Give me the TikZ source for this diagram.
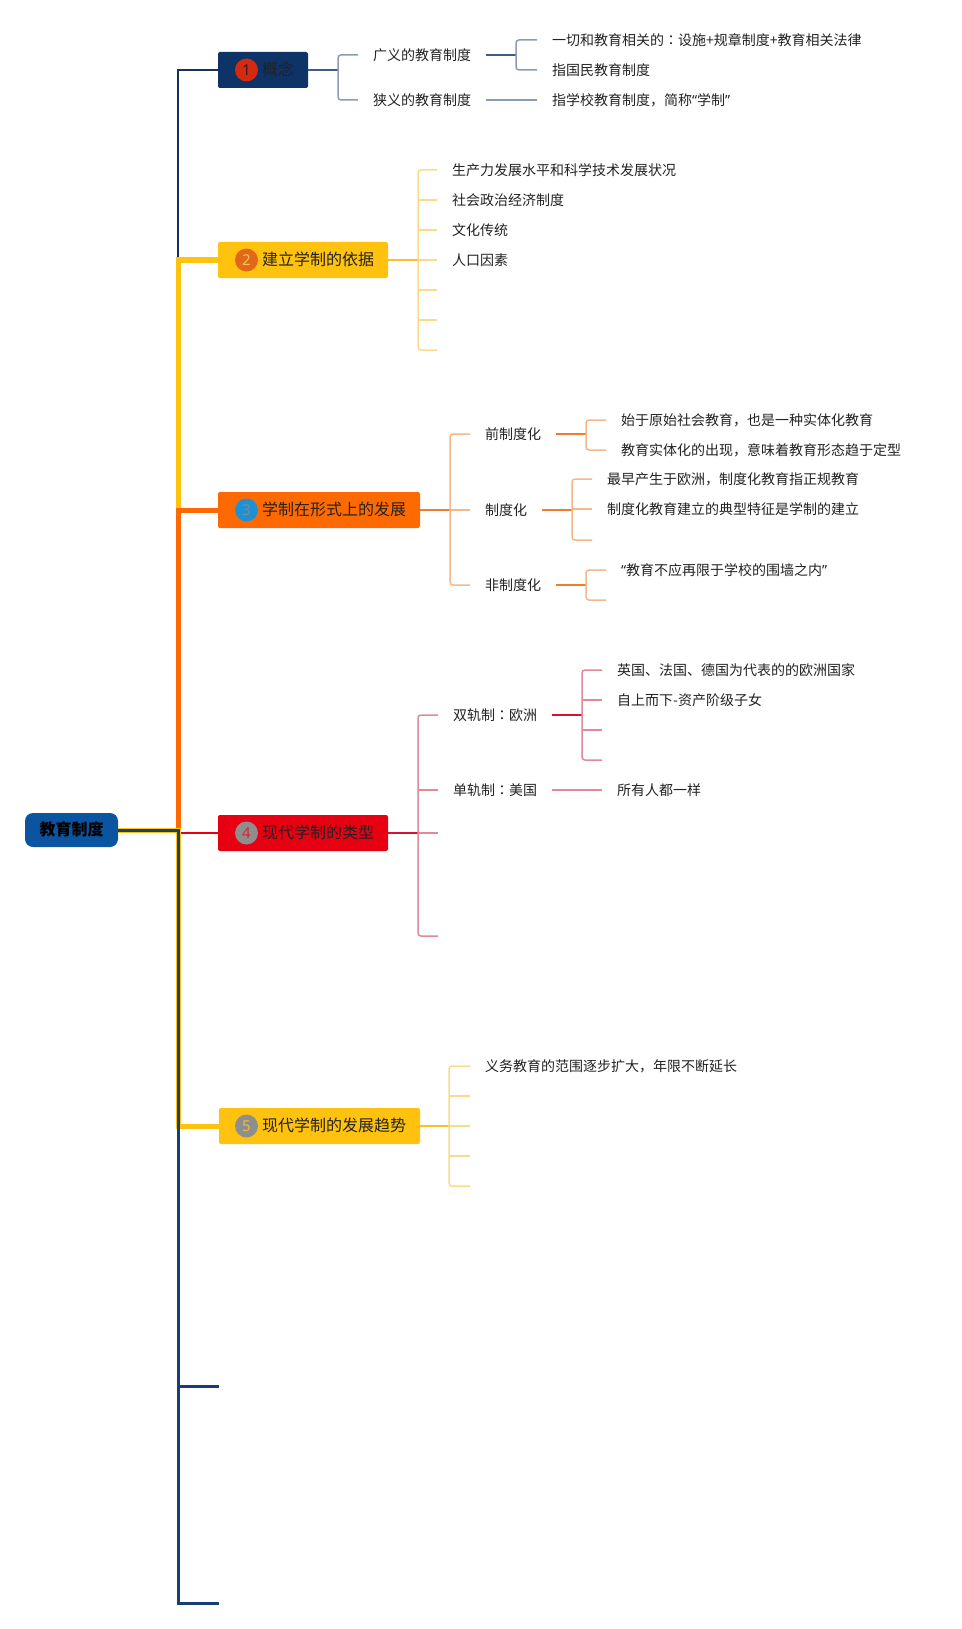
\documentclass[tikz,border=0pt]{standalone}
\usepackage{fontspec}
\setmainfont{Noto Sans CJK SC}
\newfontfamily\numfont{Noto Sans}
\newfontfamily\tcfont{Noto Sans CJK TC}
\newcommand{\mycolon}{{\tcfont ：}}
\newcommand{\myoq}{{\numfont “}}
\newcommand{\mycq}{{\numfont ”}}
\definecolor{navyA}{HTML}{14325C}
\definecolor{navyB}{HTML}{163F75}
\definecolor{boxA}{HTML}{0D3367}
\definecolor{rootC}{HTML}{0B55A0}
\definecolor{yel}{HTML}{FFC20E}
\definecolor{ora}{HTML}{FF6A00}
\definecolor{redC}{HTML}{E60012}
\definecolor{lA}{HTML}{3E5D85}
\definecolor{bA}{HTML}{8A9BB5}
\definecolor{lB}{HTML}{F3C12B}
\definecolor{bB}{HTML}{F9DB8A}
\definecolor{lC}{HTML}{EE7C33}
\definecolor{bC}{HTML}{F3B88A}
\definecolor{lD}{HTML}{D2142E}
\definecolor{bD}{HTML}{E0899A}
\definecolor{txt}{HTML}{222222}
\begin{document}
\begin{tikzpicture}[x=1pt,y=-1pt,
  mainbox/.style={rectangle, rounded corners=2pt, minimum height=36pt, inner sep=0pt},
  numc/.style={circle, minimum size=23pt, inner sep=0pt, font=\numfont\fontsize{15}{15}\selectfont},
  mtext/.style={anchor=west, inner sep=0pt, font=\fontsize{16}{16}\selectfont, text=txt, text height=13.5pt, text depth=2pt},
  sub/.style={anchor=west, inner xsep=15pt, inner ysep=0pt, font=\fontsize{14}{14}\selectfont, text=txt, text height=12pt, text depth=1.5pt},
  lineA/.style={draw=lA, line width=1.8pt},
  brA/.style={draw=bA, line width=1.5pt, rounded corners=3pt},
  lineB/.style={draw=lB, line width=1.8pt},
  brB/.style={draw=bB, line width=1.5pt, rounded corners=3pt},
  lineC/.style={draw=lC, line width=1.8pt},
  brC/.style={draw=bC, line width=1.5pt, rounded corners=3pt},
  lineD/.style={draw=lD, line width=1.8pt},
  brD/.style={draw=bD, line width=1.5pt, rounded corners=3pt},
  ]
\useasboundingbox (0,0) rectangle (961,1629);

% root
\node[rectangle, rounded corners=8pt, fill=rootC, minimum width=93pt, minimum height=34pt, inner sep=0pt,
      font=\bfseries\fontsize{16}{16}\selectfont, text=black, text height=13.5pt, text depth=2pt] (root) at (71.5,830) {教育制度};
\coordinate (hub) at (178,830);

% main boxes
\node[mainbox, fill=boxA, minimum width=90pt]  (b1) at (263,70) {};
\node[mainbox, fill=yel,  minimum width=170pt] (b2) at (303,260) {};
\node[mainbox, fill=ora,  minimum width=202pt] (b3) at (319,510) {};
\node[mainbox, fill=redC, minimum width=170pt] (b4) at (303,833) {};
\node[mainbox, fill=yel,  minimum width=201pt] (b5) at (319.5,1126) {};
\coordinate (b6) at (219,1386);
\coordinate (b7) at (219,1603);

\node[numc, fill={rgb,255:red,212;green,42;blue,16}, text={rgb,255:red,60;green,25;blue,25}] (n1) at (246.5,70) {1};
\node[numc, fill={rgb,255:red,226;green,103;blue,26}, text={rgb,255:red,249;green,197;blue,74}] (n2) at (246.5,260) {2};
\node[numc, fill={rgb,255:red,30;green,144;blue,214}, text={rgb,255:red,127;green,140;blue,141}] (n3) at (246.5,510) {3};
\node[numc, fill={rgb,255:red,142;green,142;blue,142}, text={rgb,255:red,224;green,36;blue,44}] (n4) at (246.5,833) {4};
\node[numc, fill={rgb,255:red,142;green,142;blue,142}, text={rgb,255:red,232;green,190;blue,58}] (n5) at (246.5,1126) {5};

\node[mtext] (t1) at (262,70) {概念};
\node[mtext] (t2) at (262,260) {建立学制的依据};
\node[mtext] (t3) at (262,510) {学制在形式上的发展};
\node[mtext] (t4) at (262,833) {现代学制的类型};
\node[mtext] (t5) at (262,1126) {现代学制的发展趋势};

% trunk connectors (drawn in layered order)
\draw[redC, line width=2.5pt] (hub) |- (b4.west);
\draw[navyA, line width=2.5pt] (hub) |- (b1.west);
\draw[yel, line width=5pt] (hub) |- (b2.west);
\draw[ora, line width=5pt] (hub) |- (b3.west);
\draw[yel, line width=5pt] (root.east) -- (hub) |- (b5.west);
\draw[navyB, line width=3pt] (root.east) -- (hub) |- (b6);
\draw[navyB, line width=3pt] (hub) |- (b7);

% ---------- branch 1 ----------
\coordinate (k1) at (338,70);
\node[sub] (s11) at (358,55) {广义的教育制度};
\node[sub] (s12) at (358,100) {狭义的教育制度};
\draw[lineA] (b1.east) -- (k1);
\draw[brA] (s11.west) -| (k1) |- (s12.west);
\coordinate (k11) at (516,55);
\node[sub] (s111) at (537,40) {一切和教育相关的\mycolon 设施+规章制度+教育相关法律};
\node[sub] (s112) at (537,70) {指国民教育制度};
\draw[lineA] (s11.east) -- (k11);
\draw[brA] (s111.west) -| (k11) |- (s112.west);
\node[sub] (s121) at (537,100) {指学校教育制度，简称\myoq 学制\mycq};
\draw[brA] (s12.east) -- (s121.west);

% ---------- branch 2 ----------
\coordinate (k2) at (418,260);
\node[sub] (s21) at (437,170) {生产力发展水平和科学技术发展状况};
\node[sub] (s22) at (437,200) {社会政治经济制度};
\node[sub] (s23) at (437,230) {文化传统};
\node[sub] (s24) at (437,260) {人口因素};
\coordinate (e25) at (437,290);
\coordinate (e26) at (437,320);
\coordinate (e27) at (437,350);
\draw[lineB] (b2.east) -- (k2);
\draw[brB] (s21.west) -| (k2) |- (e27);
\draw[brB] (s22.west) -- (s22.west -| k2);
\draw[brB] (s23.west) -- (s23.west -| k2);
\draw[brB] (s24.west) -- (k2);
\draw[brB] (e25) -- (e25 -| k2);
\draw[brB] (e26) -- (e26 -| k2);

% ---------- branch 3 ----------
\coordinate (k3) at (450,510);
\node[sub] (s31) at (470,434) {前制度化};
\node[sub] (s32) at (470,510) {制度化};
\node[sub] (s33) at (470,585) {非制度化};
\draw[lineC] (b3.east) -- (k3);
\draw[brC] (s31.west) -| (k3) |- (s33.west);
\draw[brC] (s32.west) -- (k3);

\coordinate (k31) at (586,434);
\node[sub] (s311) at (606,420) {始于原始社会教育，也是一种实体化教育};
\node[sub] (s312) at (606,450) {教育实体化的出现，意味着教育形态趋于定型};
\draw[lineC] (s31.east) -- (k31);
\draw[brC] (s311.west) -| (k31) |- (s312.west);

\coordinate (k32) at (572,510);
\node[sub] (s321) at (592,479) {最早产生于欧洲，制度化教育指正规教育};
\node[sub] (s322) at (592,509) {制度化教育建立的典型特征是学制的建立};
\coordinate (e323) at (592,540);
\draw[lineC] (s32.east) -- (k32);
\draw[brC] (s321.west) -| (k32) |- (e323);
\draw[brC] (s322.west) -- (s322.west -| k32);

\coordinate (k33) at (586,585);
\node[sub] (s331) at (606,570) {\myoq 教育不应再限于学校的围墙之内\mycq};
\coordinate (e332) at (606,600);
\draw[lineC] (s33.east) -- (k33);
\draw[brC] (s331.west) -| (k33) |- (e332);

% ---------- branch 4 ----------
\coordinate (k4) at (418,833);
\node[sub] (s41) at (438,715) {双轨制\mycolon 欧洲};
\node[sub] (s42) at (438,790) {单轨制\mycolon 美国};
\coordinate (e43) at (438,833);
\coordinate (e44) at (438,936);
\draw[lineD] (b4.east) -- (k4);
\draw[brD] (s41.west) -| (k4) |- (e44);
\draw[brD] (s42.west) -- (s42.west -| k4);
\draw[brD] (e43) -- (k4);

\coordinate (k41) at (582,715);
\node[sub] (s411) at (602,670) {英国、法国、德国为代表的的欧洲国家};
\node[sub] (s412) at (602,700) {自上而下-资产阶级子女};
\coordinate (e413) at (602,730);
\coordinate (e414) at (602,760);
\draw[lineD] (s41.east) -- (k41);
\draw[brD] (s411.west) -| (k41) |- (e414);
\draw[brD] (s412.west) -- (s412.west -| k41);
\draw[brD] (e413) -- (e413 -| k41);

\node[sub] (s421) at (602,790) {所有人都一样};
\draw[brD] (s42.east) -- (s421.west);

% ---------- branch 5 ----------
\coordinate (k5) at (449,1126);
\node[sub] (s51) at (470,1066) {义务教育的范围逐步扩大，年限不断延长};
\coordinate (e52) at (470,1096);
\coordinate (e53) at (470,1126);
\coordinate (e54) at (470,1156);
\coordinate (e55) at (470,1186);
\draw[lineB] (b5.east) -- (k5);
\draw[brB] (s51.west) -| (k5) |- (e55);
\draw[brB] (e52) -- (e52 -| k5);
\draw[brB] (e53) -- (k5);
\draw[brB] (e54) -- (e54 -| k5);
\end{tikzpicture}
\end{document}
